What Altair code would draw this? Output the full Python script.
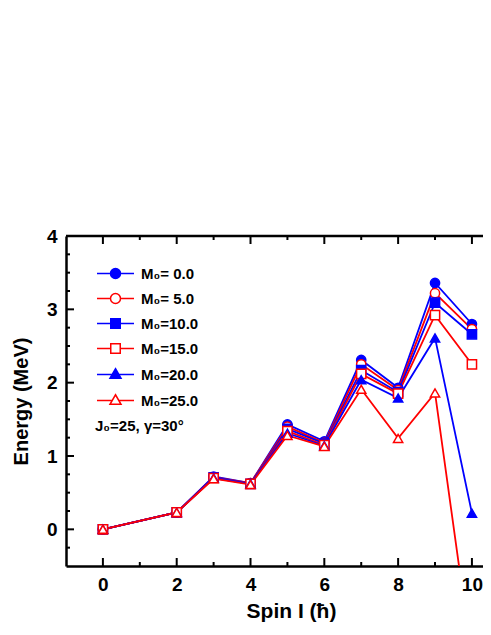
import altair as alt
import pandas as pd

spins = [0, 2, 3, 4, 5, 6, 7, 8, 9, 10]
labels = ["M₀=\u00a00.0", "M₀=\u00a05.0", "M₀=10.0", "M₀=15.0", "M₀=20.0", "M₀=25.0"]
e_m0_00 = [0, 0.23, 0.72, 0.63, 1.43, 1.20, 2.31, 1.93, 3.36, 2.80]
e_m0_05 = [0, 0.23, 0.71, 0.63, 1.40, 1.18, 2.25, 1.90, 3.22, 2.73]
e_m0_10 = [0, 0.23, 0.71, 0.62, 1.37, 1.17, 2.17, 1.87, 3.09, 2.66]
e_m0_15 = [0, 0.23, 0.70, 0.62, 1.34, 1.15, 2.12, 1.85, 2.92, 2.25]
e_m0_20 = [0, 0.23, 0.70, 0.62, 1.31, 1.14, 2.04, 1.79, 2.61, 0.22]
e_m0_25 = [0, 0.23, 0.69, 0.61, 1.28, 1.13, 1.91, 1.24, 1.86, -1.77]
series = [e_m0_00, e_m0_05, e_m0_10, e_m0_15, e_m0_20, e_m0_25]

x_major = [0, 2, 4, 6, 8, 10]
x_minor = [1, 3, 5, 7, 9]
y_major = [0, 1, 2, 3, 4]
y_minor = [-0.25, 0.25, 0.5, 0.75, 1.25, 1.5, 1.75, 2.25, 2.5, 2.75, 3.25, 3.5, 3.75]
annotation = "J₀=25, γ=30°"

rows = []
for lab, vals in zip(labels, series):
    for i, e in zip(spins, vals):
        rows.append({"I": i, "E": e, "label": lab})
df = pd.DataFrame(rows)

W, H = 417, 330
FONT = "Liberation Sans"
BLUE, RED = "#0000FF", "#FF0000"
stroke_range = [BLUE, RED, BLUE, RED, BLUE, RED]
fill_range = [BLUE, "white", BLUE, "white", BLUE, "white"]
shape_range = ["circle", "circle", "square", "square", "triangle-up", "triangle-up"]

L = 3.7
leg_paths = [
    f"M{-L},0H-1M1,0H{L}M-1,0A1,1 0 1,1 1,0A1,1 0 1,1 -1,0Z",
    f"M{-L},0H-1M1,0H{L}M-1,0A1,1 0 1,1 1,0A1,1 0 1,1 -1,0Z",
    f"M{-L},0H-0.95M0.95,0H{L}M-0.95,-0.95H0.95V0.95H-0.95Z",
    f"M{-L},0H-0.95M0.95,0H{L}M-0.95,-0.95H0.95V0.95H-0.95Z",
    f"M{-L},0H-0.67M0.67,0H{L}M0,-1.15L1.1,0.75L-1.1,0.75Z",
    f"M{-L},0H-0.67M0.67,0H{L}M0,-1.15L1.1,0.75L-1.1,0.75Z",
]

xs = alt.Scale(domain=[-1, 10.3], nice=False, zero=False)
ys = alt.Scale(domain=[-0.5, 4], nice=False, zero=False)
xaxis = alt.Axis(values=x_major, ticks=False, grid=False, domainWidth=2.5, domainColor="black",
                 labelFont=FONT, labelFontSize=19, labelFontWeight="bold", labelColor="black",
                 labelPadding=9, labelFlush=False, title="Spin I (ħ)", titleFont=FONT,
                 titleFontSize=21, titleFontWeight="bold", titleColor="black", titlePadding=6,
                 titleX=225)
yaxis = alt.Axis(values=y_major, ticks=False, grid=False, domainWidth=2.5, domainColor="black",
                 labelFont=FONT, labelFontSize=19, labelFontWeight="bold", labelColor="black",
                 labelPadding=9, labelFlush=False, title="Energy (MeV)", titleFont=FONT,
                 titleFontSize=20, titleFontWeight="bold", titleColor="black", titlePadding=15)
X = alt.X("I:Q", scale=xs, axis=xaxis)
Y = alt.Y("E:Q", scale=ys, axis=yaxis)

lines = alt.Chart(df).mark_line(strokeWidth=1.8, clip=True).encode(
    x=X, y=Y,
    stroke=alt.Stroke("label:N", scale=alt.Scale(domain=labels, range=stroke_range), legend=None),
    detail="label:N",
)
points = alt.Chart(df).mark_point(size=85, strokeWidth=1.5, opacity=1, clip=False).encode(
    x=X, y=Y,
    shape=alt.Shape("label:N", scale=alt.Scale(domain=labels, range=shape_range), legend=None),
    stroke=alt.Stroke("label:N", scale=alt.Scale(domain=labels, range=stroke_range), legend=None),
    fill=alt.Fill("label:N", scale=alt.Scale(domain=labels, range=fill_range), legend=None),
).transform_filter("datum.E >= -0.5")
leg = alt.Legend(title=None, orient="none", legendX=42, legendY=30, padding=0,
                 labelFont=FONT, labelFontSize=15, labelFontWeight="bold", labelColor="black",
                 symbolSize=100, symbolStrokeWidth=1.5, labelOffset=18, rowPadding=8)
legend_layer = alt.Chart(df).transform_filter("false").mark_point(
    size=100, strokeWidth=1.5, opacity=1).encode(
    x=X, y=Y,
    shape=alt.Shape("label:N", scale=alt.Scale(domain=labels, range=leg_paths), legend=leg),
    stroke=alt.Stroke("label:N", scale=alt.Scale(domain=labels, range=stroke_range), legend=leg),
    fill=alt.Fill("label:N", scale=alt.Scale(domain=labels, range=fill_range), legend=leg),
)

xmaj = pd.DataFrame({"I": x_major})
xmin = pd.DataFrame({"I": x_minor})
ymaj = pd.DataFrame({"E": y_major})
ymin = pd.DataFrame({"E": y_minor})
tk = dict(strokeWidth=2, color="black")
ticks = [
    alt.Chart(xmaj).mark_rule(**tk).encode(x=X, y=alt.value(H), y2=alt.value(H - 8)),
    alt.Chart(xmin).mark_rule(**tk).encode(x=X, y=alt.value(H), y2=alt.value(H - 4)),
    alt.Chart(xmaj).mark_rule(**tk).encode(x=X, y=alt.value(0), y2=alt.value(8)),
    alt.Chart(xmin).mark_rule(**tk).encode(x=X, y=alt.value(0), y2=alt.value(4)),
    alt.Chart(ymaj).mark_rule(**tk).encode(y=Y, x=alt.value(0), x2=alt.value(8)),
    alt.Chart(ymin).mark_rule(**tk).encode(y=Y, x=alt.value(0), x2=alt.value(4)),
]
top_border = alt.Chart(pd.DataFrame({"k": [0]})).mark_rule(strokeWidth=2.5, color="black").encode(
    x=alt.value(0), x2=alt.value(W), y=alt.value(0))
note = alt.Chart(pd.DataFrame({"t": [annotation]})).mark_text(
    align="left", baseline="middle", font=FONT, fontSize=15, fontWeight="bold", color="black"
).encode(text="t:N", x=alt.value(29), y=alt.value(190))

chart = alt.layer(lines, points, legend_layer, *ticks, top_border, note).resolve_scale(
    shape="independent", stroke="independent", fill="independent"
).properties(
    width=W, height=H,
    padding={"left": 58, "top": 228, "right": 0, "bottom": 56},
    autosize=alt.AutoSizeParams(type="none"),
).configure_view(stroke=None)

chart.save("out.html", embed_options={"renderer": "svg", "actions": False})
